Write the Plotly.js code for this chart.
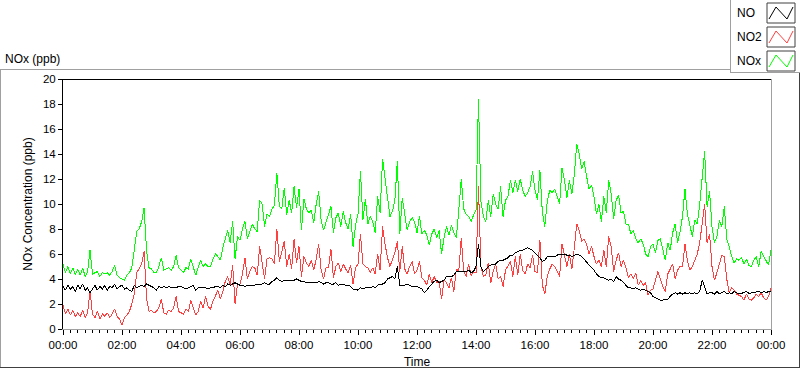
<!DOCTYPE html>
<html>
<head>
<meta charset="utf-8">
<script src="https://cdn.plot.ly/plotly-3.0.1.min.js"></script>
<style>
  html, body { margin: 0; padding: 0; background: #fff; }
  #chart { width: 800px; height: 369px; }
  .scatterlayer .js-line { shape-rendering: crispEdges; }
</style>
</head>
<body>
<div id="chart"></div>
<script>
// ---- Data (5-minute readings, 00:00 .. 24:00) ----
const startTime = '2000-01-01T00:00:00';
const stepMinutes = 5;

const seriesNames = ['NO', 'NO2', 'NOx'];

const noValues = [
  3.4,3.1,3.5,3.2,3.4,3.0,3.5,3.2,3.6,3.1,3.3,2.9,
  3.2,3.5,3.1,3.4,3.2,3.5,3.1,3.4,3.3,3.6,3.2,3.4,
  3.5,3.2,3.3,3.1,3.0,3.5,3.3,3.4,3.5,3.4,3.6,3.5,
  3.4,3.3,3.1,3.4,3.3,3.4,3.3,3.4,3.3,3.3,3.3,3.4,
  3.4,3.3,3.2,3.3,3.4,3.5,3.1,3.3,3.3,3.3,3.3,3.2,
  3.3,3.3,3.4,3.4,3.3,3.5,3.4,3.6,3.5,3.6,3.7,3.6,
  3.5,3.5,3.4,3.5,3.5,3.5,3.5,3.6,3.6,3.6,3.7,3.6,
  3.6,3.8,3.9,4.1,3.9,3.8,3.9,3.9,3.9,3.9,3.9,4.0,
  3.9,3.8,3.8,3.7,3.7,3.7,3.7,3.7,3.8,3.7,3.6,3.7,
  3.7,3.6,3.6,3.7,3.5,3.6,3.6,3.5,3.5,3.4,3.2,3.2,
  3.1,3.3,3.2,3.3,3.3,3.3,3.4,3.3,3.5,3.6,3.6,3.7,
  4.0,4.1,4.2,4.0,5.0,3.5,3.5,3.5,3.6,3.5,3.4,3.4,
  3.4,3.3,3.2,2.9,3.1,3.4,3.6,3.8,3.9,3.7,3.8,3.9,
  4.2,4.2,4.2,4.3,4.6,4.6,4.6,4.6,4.6,4.7,4.5,4.6,
  5.0,6.8,5.0,4.6,4.8,5.0,5.1,5.2,5.2,5.4,5.5,5.5,
  5.6,5.7,5.9,5.9,6.1,6.2,6.3,6.3,6.4,6.5,6.4,6.3,
  6.1,5.9,5.7,5.4,5.5,5.8,5.8,5.8,5.8,5.9,6.0,6.0,
  6.0,5.9,5.9,5.8,5.9,6.0,5.9,5.8,5.6,5.3,5.1,4.9,
  4.7,4.4,4.2,4.1,4.1,4.0,3.9,4.0,3.8,4.2,4.0,3.9,
  3.7,3.5,3.3,3.3,3.2,3.3,3.2,3.1,3.2,3.1,3.0,2.9,
  2.6,2.5,2.4,2.3,2.3,2.4,2.4,2.6,2.8,2.9,2.8,2.9,
  2.8,2.9,2.8,2.9,2.8,2.9,2.8,3.0,3.9,3.4,2.8,2.9,
  2.9,2.8,3.0,2.8,2.9,3.0,2.8,2.9,2.8,3.0,2.9,2.8,
  2.85,2.9,3.0,2.85,2.9,2.9,3.0,3.0,2.9,3.0,2.9,3.0,
  3.0
];

const no2Values = [
  1.9,1.2,1.6,1.1,1.5,1.0,1.3,1.0,1.5,0.9,1.3,3.0,
  1.2,0.9,1.4,0.8,1.2,1.0,1.3,0.9,1.2,1.6,1.0,0.8,
  0.3,0.9,1.1,1.4,2.0,2.8,4.5,4.8,5.2,6.2,2.4,1.4,
  1.5,1.3,1.4,1.7,2.4,1.3,1.2,1.5,1.4,1.7,2.6,1.4,
  1.3,1.2,1.6,1.4,2.3,1.6,1.1,1.4,2.2,1.7,2.6,1.8,
  1.6,2.2,2.6,3.1,2.4,3.0,3.8,4.2,3.5,5.1,2.0,3.6,
  3.6,4.4,5.7,4.0,4.6,5.0,4.9,4.3,6.6,5.2,4.0,5.6,
  5.7,5.6,5.2,8.0,5.4,6.2,7.0,5.0,6.0,4.8,7.2,5.3,
  6.6,4.2,5.8,5.3,5.0,5.5,4.7,5.6,6.8,4.7,4.0,4.9,
  4.9,6.4,4.1,5.0,5.3,4.6,5.2,4.8,4.5,5.1,3.6,4.9,
  5.2,7.6,5.2,5.0,4.9,4.5,4.9,4.4,6.0,4.7,8.2,6.8,
  5.7,5.0,5.6,6.1,7.0,4.6,6.6,4.8,4.4,5.0,5.4,4.4,
  4.7,5.4,4.1,3.9,3.5,4.4,3.7,4.2,3.7,3.8,2.4,3.9,
  3.7,3.3,4.1,3.0,4.8,4.6,7.3,4.6,4.2,5.2,4.3,4.5,
  4.5,11.4,5.0,4.2,4.3,5.3,3.7,4.6,5.2,4.0,4.2,3.4,
  4.7,5.0,5.4,4.2,5.8,4.3,6.0,4.7,4.4,5.2,4.9,5.9,
  4.6,4.5,7.1,3.5,2.8,4.2,4.8,5.2,5.0,4.6,4.2,6.8,
  6.0,5.0,6.0,4.8,6.5,8.4,7.9,7.0,7.2,6.8,6.0,6.6,
  5.8,5.2,5.5,5.0,6.3,5.0,7.4,6.6,4.6,5.5,6.1,5.0,
  5.5,4.9,4.1,4.4,4.0,4.5,3.5,3.9,3.5,3.7,2.7,3.1,
  3.2,3.9,4.6,4.0,3.4,3.0,4.4,4.8,5.2,4.0,4.7,5.0,
  5.0,6.8,5.5,4.7,5.0,5.5,6.0,6.9,8.7,10.0,6.9,7.6,
  5.0,3.9,4.5,5.2,5.9,5.8,4.0,2.9,3.3,3.1,2.8,2.7,
  2.6,2.3,2.8,2.4,2.3,2.5,2.8,2.6,2.9,2.5,2.3,2.6,
  3.3
];

const noxValues = [
  5.2,4.5,5.0,4.4,4.9,4.3,4.8,4.3,4.9,4.2,4.6,6.3,
  4.4,4.5,4.6,4.2,4.5,4.4,4.5,4.3,4.6,5.1,4.3,4.1,
  4.0,3.9,4.3,4.5,4.9,6.2,7.8,8.0,8.6,9.7,6.2,4.9,
  4.8,4.5,4.5,5.0,5.7,4.7,4.8,4.9,4.7,5.0,5.9,4.9,
  4.7,4.5,4.9,4.8,5.6,5.0,4.3,4.9,5.5,5.0,5.2,5.0,
  5.0,5.6,6.0,5.8,5.5,6.5,7.3,7.9,6.9,8.6,5.6,7.4,
  7.1,8.0,8.6,7.2,7.8,8.4,8.0,7.8,10.3,10.0,8.2,9.2,
  9.0,9.6,9.9,12.5,9.8,9.6,11.3,9.1,10.3,9.3,11.4,9.7,
  11.2,7.9,10.4,9.6,9.3,9.5,8.5,10.0,11.0,8.7,7.9,8.6,
  9.3,9.8,7.7,8.9,9.3,8.2,9.4,8.5,8.0,9.2,6.6,8.3,
  9.2,12.6,8.7,10.4,8.4,9.0,8.6,7.7,10.6,9.3,13.6,12.2,
  10.6,9.0,9.4,10.3,13.4,7.6,10.5,9.0,7.9,8.6,8.9,8.6,
  7.7,9.0,7.6,7.9,7.5,6.7,7.6,8.0,7.3,7.9,6.0,7.3,
  8.2,7.5,8.3,7.7,7.3,9.5,12.0,9.6,9.2,9.0,8.6,9.1,
  9.5,18.4,10.2,9.0,8.6,10.3,9.0,10.8,10.0,9.6,11.4,9.0,
  10.3,10.6,11.9,10.9,11.9,11.0,12.0,11.1,10.6,10.9,11.4,12.6,
  11.1,10.3,12.7,9.3,8.2,10.2,11.1,10.9,11.2,10.6,10.0,12.9,
  11.9,10.5,11.9,10.8,12.4,14.8,14.0,12.8,13.4,12.2,11.2,11.5,
  10.6,9.2,10.0,8.6,10.6,9.3,11.9,10.8,8.8,10.3,10.7,9.3,
  9.4,8.4,8.4,7.6,7.9,7.2,6.9,7.2,6.8,6.0,5.8,6.6,
  6.8,6.1,7.1,7.2,6.2,5.5,6.9,6.3,7.7,8.4,6.9,7.8,
  9.0,11.2,9.2,8.2,7.4,8.7,8.4,10.0,11.9,14.2,9.8,11.0,
  8.2,6.9,7.4,8.7,8.2,9.8,7.2,6.6,5.8,5.3,5.6,5.5,
  5.7,5.2,5.6,5.1,5.0,5.5,5.8,5.0,6.2,5.8,5.5,5.1,
  6.3
];

const yTickValues = [0, 2, 4, 6, 8, 10, 12, 14, 16, 18, 20];

// ---- Build time axis ----
const t0 = new Date(startTime + 'Z').getTime();
function fmt(ms) {
  const d = new Date(ms);
  const p = n => String(n).padStart(2, '0');
  return d.getUTCFullYear() + '-' + p(d.getUTCMonth() + 1) + '-' + p(d.getUTCDate()) + ' ' +
         p(d.getUTCHours()) + ':' + p(d.getUTCMinutes());
}
const times = noValues.map((_, i) => fmt(t0 + i * stepMinutes * 60000));

// ---- Layout geometry helpers (pixel -> paper) ----
const W = 800, H = 369;
const M = { l: 63, r: 29, t: 79, b: 40 };
const PW = W - M.l - M.r, PH = H - M.t - M.b;
const px = x => (x - M.l) / PW;
const py = y => (H - M.b - y) / PH;

const FONT = 'Liberation Sans, Arial, sans-serif';
const colors = { NO: '#000000', NO2: '#ff4040', NOx: '#00ff00' };

const traces = [
  { name: 'NOx', y: noxValues, color: colors.NOx },
  { name: 'NO2', y: no2Values, color: colors.NO2 },
  { name: 'NO',  y: noValues,  color: colors.NO }
].map(s => ({
  type: 'scatter', mode: 'lines', name: s.name, x: times, y: s.y,
  line: { color: s.color, width: 1 }, hoverinfo: 'skip'
}));

function line(x0, y0, x1, y1, color) {
  return { type: 'line', xref: 'paper', yref: 'paper', x0: px(x0), y0: py(y0), x1: px(x1), y1: py(y1),
           line: { color: color, width: 1 }, layer: 'above' };
}

const shapes = [
  // outer panel frame
  line(0, 69.5, 730, 69.5, '#a0a0a0'),
  line(0.5, 69, 0.5, 368, '#a0a0a0'),
  line(0, 367.5, 800, 367.5, '#404040'),
  line(799.5, 72, 799.5, 368, '#404040'),
  // legend frame
  line(730.5, 0, 730.5, 72, '#a0a0a0'),
  line(730, 72.5, 800, 72.5, '#a0a0a0'),
  // plot frame (top / right)
  line(62, 79.5, 772, 79.5, '#000000'),
  line(771.5, 79, 771.5, 330, '#a0a0a0')
];

const annotations = [
  { text: 'NOx (ppb)', xref: 'paper', yref: 'paper', x: px(3), y: py(59), xanchor: 'left', yanchor: 'middle',
    showarrow: false, font: { family: FONT, size: 12, color: '#000' } }
];

const legendRows = [
  { name: 'NO', color: colors.NO, top: 3 },
  { name: 'NO2', color: colors.NO2, top: 27 },
  { name: 'NOx', color: colors.NOx, top: 51 }
];
legendRows.forEach(r => {
  const x0 = 767, x1 = 795, y0 = r.top, y1 = r.top + 20;
  shapes.push({ type: 'rect', xref: 'paper', yref: 'paper', x0: px(x0), x1: px(x1), y0: py(y1), y1: py(y0),
                line: { color: '#404040', width: 1 }, fillcolor: '#ffffff', layer: 'above' });
  const pts = [[769, y1 - 4], [776, y0 + 4], [787, y1 - 4], [793, y0 + 4]];
  const path = 'M' + pts.map(p => px(p[0]) + ',' + py(p[1])).join(' L');
  shapes.push({ type: 'path', xref: 'paper', yref: 'paper', path: path,
                line: { color: r.color, width: 1 }, layer: 'above' });
  annotations.push({ text: r.name, xref: 'paper', yref: 'paper', x: px(735), y: py(r.top + 10),
                     xanchor: 'left', yanchor: 'middle', showarrow: false,
                     font: { family: FONT, size: 12, color: '#000' } });
});

const layout = {
  width: W, height: H,
  margin: M,
  paper_bgcolor: '#ffffff', plot_bgcolor: '#ffffff',
  showlegend: false,
  font: { family: FONT, size: 11, color: '#000' },
  xaxis: {
    type: 'date',
    range: ['2000-01-01 00:00', '2000-01-02 00:00'],
    tick0: '2000-01-01 00:00', dtick: 7200000,
    tickformat: '%H:%M',
    ticks: 'outside', ticklen: 5, tickcolor: '#000', tickwidth: 1,
    minor: { dtick: 900000, ticks: 'outside', ticklen: 3, tickcolor: '#000', tickwidth: 1, showgrid: false },
    showgrid: false, zeroline: false,
    showline: true, linecolor: '#a0a0a0', linewidth: 1,
    tickfont: { family: FONT, size: 11.5, color: '#000' },
    title: { text: 'Time', font: { family: FONT, size: 12, color: '#000' }, standoff: 7 }
  },
  yaxis: {
    range: [0, 20],
    tickvals: yTickValues,
    ticks: 'outside', ticklen: 4, tickcolor: '#000', tickwidth: 1,
    showgrid: false, zeroline: false,
    showline: true, linecolor: '#000', linewidth: 1,
    tickfont: { family: FONT, size: 11.5, color: '#000' },
    title: { text: 'NOx Concentration (ppb)', font: { family: FONT, size: 12, color: '#000' }, standoff: 7 }
  },
  shapes: shapes,
  annotations: annotations
};

Plotly.newPlot('chart', traces, layout, { staticPlot: true, displayModeBar: false });
</script>
</body>
</html>
